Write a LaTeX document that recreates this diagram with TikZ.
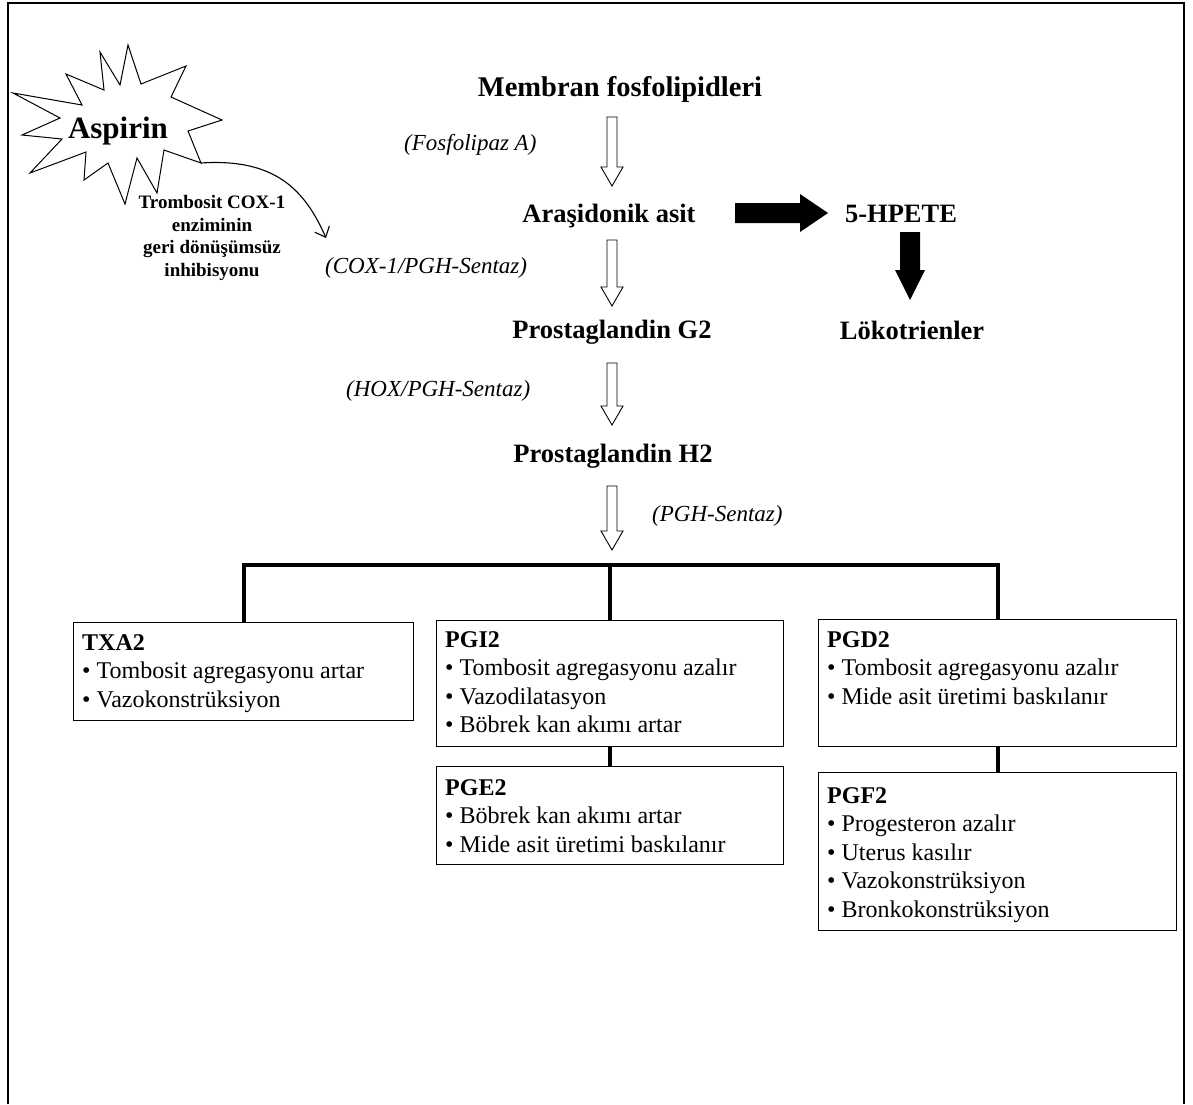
\documentclass[tikz,border=0pt]{standalone}
\usepackage{fontspec}
\setmainfont{Liberation Serif}
\usetikzlibrary{arrows.meta,calc}
\begin{document}
\begin{tikzpicture}[x=1pt,y=-1pt,
 title/.style={font=\bfseries\fontsize{26.5}{32}\selectfont, anchor=base, inner sep=0},
 enz/.style={font=\itshape\fontsize{23}{28}\selectfont, anchor=base west, inner sep=0},
 hollowdown/.style={draw=black, fill=white, line width=0.9pt,
   to path={let \p1=(\tikztostart), \p2=(\tikztotarget) in
   (\x1-5pt,\y1) -- (\x1+5pt,\y1) -- (\x1+5pt,\y2+19pt) -- (\x1+11pt,\y2+19pt) -- (\x1,\y2)
   -- (\x1-11pt,\y2+19pt) -- (\x1-5pt,\y2+19pt) -- cycle}},
 blackright/.style={fill=black,
   to path={let \p1=(\tikztostart), \p2=(\tikztotarget) in
   (\x1,\y1+10pt) -- (\x2-28pt,\y1+10pt) -- (\x2-28pt,\y1+19pt) -- (\x2,\y1)
   -- (\x2-28pt,\y1-19pt) -- (\x2-28pt,\y1-10pt) -- (\x1,\y1-10pt) -- cycle}},
 blackdown/.style={fill=black,
   to path={let \p1=(\tikztostart), \p2=(\tikztotarget) in
   (\x1-10pt,\y1) -- (\x1+10pt,\y1) -- (\x1+10pt,\y2+30pt) -- (\x1+15pt,\y2+30pt) -- (\x1,\y2)
   -- (\x1-15pt,\y2+30pt) -- (\x1-10pt,\y2+30pt) -- cycle}},
 bx/.style={draw, line width=1.1pt, anchor=north west, inner sep=0},
 bxt/.style={anchor=north west, inner sep=0, align=left, font=\fontsize{24}{28.5}\selectfont},
 bar/.style={line width=4pt},
]
\useasboundingbox (0,0) rectangle (1193,1104);
% frame
\draw[line width=2pt] (8,1104) -- (8,3) -- (1184,3) -- (1184,1104);

% main column
\node[title, font=\bfseries\fontsize{28.5}{34}\selectfont] (membran) at (620,96) {Membran fosfolipidleri};
\node[enz] (fosfo) at (404,150) {(Fosfolipaz A)};
\node[title] (arasid) at (609,222) {Araşidonik asit};
\node[title] (hpete) at (901,222) {5-HPETE};
\node[enz] (cox) at (325,273) {(COX-1/PGH-Sentaz)};
\node[title] (pgg2) at (612,338) {Prostaglandin G2};
\node[title] (lok) at (912,339) {Lökotrienler};
\node[enz] (hox) at (346,396) {(HOX/PGH-Sentaz)};
\node[title] (pgh2) at (613,462) {Prostaglandin H2};
\node[enz] (pghs) at (652,521) {(PGH-Sentaz)};

% arrows
\coordinate (a1s) at (612,117); \coordinate (a1e) at (612,186);
\coordinate (a2s) at (612,240); \coordinate (a2e) at (612,306);
\coordinate (a3s) at (612,363); \coordinate (a3e) at (612,425);
\coordinate (a4s) at (612,486); \coordinate (a4e) at (612,550);
\coordinate (rs) at (735,213); \coordinate (re) at (828,213);
\coordinate (ds) at (910,232); \coordinate (de) at (910,300);
\draw[hollowdown] (a1s) to (a1e);
\draw[hollowdown] (a2s) to (a2e);
\draw[hollowdown] (a3s) to (a3e);
\draw[hollowdown] (a4s) to (a4e);
\fill[blackright] (rs) to (re);
\fill[blackdown] (ds) to (de);

% aspirin star
\draw[line width=1pt, fill=white] (13,93) -- (82,105) -- (66,74) -- (104,90) -- (100,52) -- (120,85)
 -- (128,45) -- (141,84) -- (186,66) -- (171,97) -- (222,120) -- (188,131) -- (201,163)
 -- (164,150) -- (157,193) -- (137,158) -- (125,204) -- (108,163) -- (84,180) -- (86,152)
 -- (30,173) -- (62,139) -- (22,135) -- (60,118) -- cycle;
\node[font=\bfseries\fontsize{31}{36}\selectfont, anchor=base, inner sep=0] (aspirin) at (118,138) {Aspirin};
\coordinate (stip) at (201,163);
\coordinate (coxt) at (326,238);
\draw[line width=1.1pt, -{Straight Barb[length=9pt,width=16pt]}] (stip) .. controls (275,158) and (305,190) .. (coxt);
\node[font=\bfseries\fontsize{19}{22.7}\selectfont, align=center, anchor=north, inner sep=0] (tromb) at (212,195)
 {Trombosit COX-1\\enziminin\\geri dönüşümsüz\\inhibisyonu};

% boxes
\node[bx, minimum width=340, minimum height=98] (txa2) at (73,622) {};
\node[bx, minimum width=347, minimum height=126] (pgi2) at (436,620) {};
\node[bx, minimum width=347, minimum height=98] (pge2) at (436,766) {};
\node[bx, minimum width=358, minimum height=127] (pgd2) at (818,619) {};
\node[bx, minimum width=358, minimum height=158] (pgf2) at (818,772) {};

\node[bxt] (txa2t) at (82,634) {\textbf{TXA2}\\• Tombosit agregasyonu artar\\• Vazokonstrüksiyon};
\node[bxt] (pgi2t) at (445,631) {\textbf{PGI2}\\• Tombosit agregasyonu azalır\\• Vazodilatasyon\\• Böbrek kan akımı artar};
\node[bxt] (pge2t) at (445,779) {\textbf{PGE2}\\• Böbrek kan akımı artar\\• Mide asit üretimi baskılanır};
\node[bxt] (pgd2t) at (827,631) {\textbf{PGD2}\\• Tombosit agregasyonu azalır\\• Mide asit üretimi baskılanır};
\node[bxt] (pgf2t) at (827,787) {\textbf{PGF2}\\• Progesteron azalır\\• Uterus kasılır\\• Vazokonstrüksiyon\\• Bronkokonstrüksiyon};

% tree
\coordinate (barl) at (0,565);
\draw[bar] (txa2.north) -- (txa2.north |- barl) -- (pgd2.north |- barl) -- (pgd2.north);
\draw[bar] (pgi2.north) -- (pgi2.north |- barl);
\draw[bar] (pgi2.south) -- (pge2.north);
\draw[bar] (pgd2.south) -- (pgf2.north);
\end{tikzpicture}
\end{document}
